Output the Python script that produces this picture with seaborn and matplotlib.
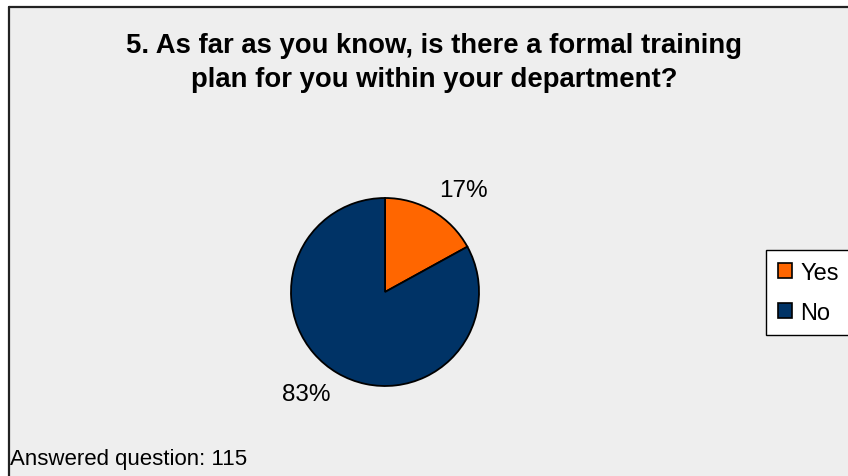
import matplotlib
matplotlib.use("Agg")
import matplotlib.pyplot as plt
from matplotlib.patches import Rectangle, Patch
import seaborn as sns
import numpy as np

# Survey question 5 responses
title_text = "5. As far as you know, is there a formal training\nplan for you within your department?"
categories = ["Yes", "No"]
shares = [17, 83]
answered = 115
palette = ["#FF6600", "#003366"]

sns.set_theme(style="white")
plt.rcParams["font.family"] = ["Liberation Sans", "DejaVu Sans"]
plt.rcParams["text.color"] = "black"

W, H = 848, 477
fig = plt.figure(figsize=(W / 100, H / 100), dpi=100, facecolor="white")

def fx(px):
    return px / W

def fy(py):
    return 1 - py / H

# Chart area panel with a dark frame on the top and left edges
fig.patches.append(Rectangle((fx(9), 0), 1 - fx(9), fy(8), transform=fig.transFigure,
                             facecolor="#EEEEEE", edgecolor="none", zorder=-5))
fig.lines.append(plt.Line2D([fx(9), 1], [fy(8), fy(8)], transform=fig.transFigure,
                            color="#222222", lw=1.6, zorder=-4))
fig.lines.append(plt.Line2D([fx(9), fx(9)], [fy(8), 0], transform=fig.transFigure,
                            color="#222222", lw=1.6, zorder=-4))

# Pie axes: centre (385, 293), radius 94 px
cx, cy, r = 385, 293, 94
ax = fig.add_axes([fx(cx - r), fy(cy + r), 2 * r / W, 2 * r / H])
ax.set_facecolor("none")
wedges, _ = ax.pie(shares, colors=palette, startangle=90, counterclock=False,
                   radius=1.0, wedgeprops=dict(edgecolor="black", linewidth=1.3))
ax.set_xlim(-1, 1)
ax.set_ylim(-1, 1)
ax.set_aspect("equal")
ax.axis("off")

# Percentage labels placed just outside each wedge
for w, v in zip(wedges, shares):
    mid = np.deg2rad((w.theta1 + w.theta2) / 2)
    x, y = 1.13 * np.cos(mid), 1.13 * np.sin(mid)
    ax.text(x, y, f"{v}%", ha="left" if x > 0 else "right",
            va="bottom" if y > 0 else "top", fontsize=17.5, color="black", clip_on=False)

fig.text(fx(434), fy(63), title_text, ha="center", va="center", fontsize=19.8,
         fontweight="bold", linespacing=1.38, color="black")

handles = [Patch(facecolor=c, edgecolor="black", linewidth=1.2) for c in palette]
fig.legend(handles, categories, loc="upper left", bbox_to_anchor=(fx(766), fy(251)),
           frameon=True, fancybox=False, edgecolor="black", facecolor="white",
           framealpha=1, fontsize=17, labelcolor="black", handlelength=0.6,
           handleheight=0.6, handletextpad=0.35, labelspacing=0.75, borderpad=0.5,
           borderaxespad=0)

fig.text(fx(10), fy(465), f"Answered question: {answered}", ha="left", va="baseline",
         fontsize=16, color="black")

fig.savefig("out.png", dpi=100, facecolor="white")
